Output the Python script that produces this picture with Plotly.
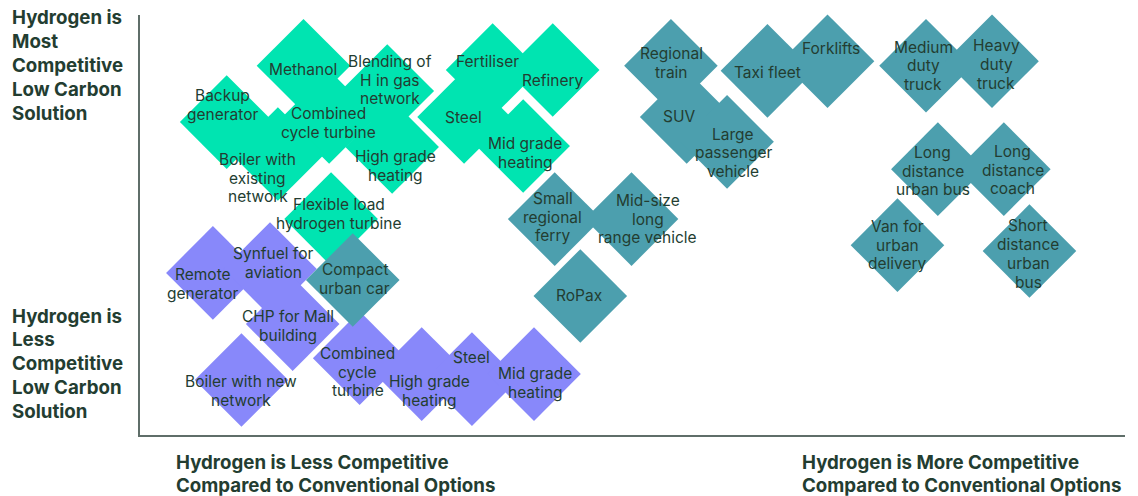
import plotly.graph_objects as go

# ---- Applications, scored on cost competitiveness (x) and low-carbon competitiveness (y) ----
green_names = ["Methanol", "Blending of<br>H in gas<br>network", "Backup<br>generator",
               "Combined<br>cycle turbine", "Boiler with<br>existing<br>network",
               "High grade<br>heating", "Flexible load<br>hydrogen turbine", "Fertiliser",
               "Refinery", "Steel", "Mid grade<br>heating"]
green_x = [16.6, 25.1, 8.8, 19.2, 14.0, 25.6, 19.4, 35.8, 41.9, 32.9, 38.9]
green_y = [87.9, 81.9, 74.5, 75.7, 66.9, 68.6, 51.4, 86.9, 86.9, 75.7, 68.8]

purple_names = ["Remote<br>generator", "Synfuel for<br>aviation", "CHP for Mall<br>building",
                "Boiler with new<br>network", "Combined<br>cycle<br>turbine",
                "High grade<br>heating", "Steel", "Mid grade<br>heating"]
purple_x = [7.4, 13.2, 15.5, 10.3, 22.3, 28.6, 33.7, 40.0]
purple_y = [38.6, 39.5, 26.4, 13.1, 18.3, 14.5, 13.3, 14.5]

teal_names = ["Compact<br>urban car", "Small<br>regional<br>ferry", "Mid-size<br>long<br>range vehicle",
              "RoPax", "Regional<br>train", "Taxi fleet", "Forklifts", "SUV",
              "Large<br>passenger<br>vehicle", "Medium<br>duty<br>truck", "Heavy<br>duty<br>truck",
              "Long<br>distance<br>urban bus", "Long<br>distance<br>coach",
              "Van for<br>urban<br>delivery", "Short<br>distance<br>urban<br>bus"]
teal_x = [21.6, 42.1, 49.9, 44.7, 53.9, 63.7, 69.8, 55.5, 59.6, 79.8, 86.5, 81.0, 87.7, 76.9, 90.3]
teal_y = [36.9, 51.4, 51.4, 33.1, 87.9, 86.7, 89.0, 75.7, 69.8, 87.9, 89.0, 63.3, 63.3, 45.2, 43.8]

# ---- Label nudges in pixels (dx right, dy down) relative to each diamond ----
green_nudge = [(-1, 4), (3, -11), (-4, -17), (-1, 6), (-20, 24), (3, 19), (8, -5),
               (-5, -9), (0, 10), (-1, 0), (2, 7)]
purple_nudge = [(-10, 11), (3, -6), (-5, 2), (0, 11), (-2, 14), (8, 17), (0, -22), (1, 9)]
teal_nudge = [(2, -1), (-2, -2), (16, 0), (-1, 0), (1, -3), (0, 2), (3, -13), (-8, -1),
              (6, 11), (-3, 0), (4, 3), (-5, 2), (9, 1), (0, 0), (-1, 3)]

# ---- Styling ----
GREEN = "#00e4b1"
PURPLE = "#8888fa"
TEAL = "#4c9fae"
INK = "#233d31"
AXIS = "#5f6e69"
FONT = "Inter"
LABEL_SIZE = 15.5
LABEL_LEAD = 18.8     # px between lines inside a diamond
CAPTION_SIZE = 18.7
W, H = 1138, 496
ML, MR, MT, MB = 140, 13, 15, 61
PW, PH = W - ML - MR, H - MT - MB

fig = go.Figure()

annotations = []
# draw green, then purple, then teal so teal sits on top where they overlap
for names, xs, ys, color, nudge in [
    (green_names, green_x, green_y, GREEN, green_nudge),
    (purple_names, purple_x, purple_y, PURPLE, purple_nudge),
    (teal_names, teal_x, teal_y, TEAL, teal_nudge),
]:
    fig.add_trace(go.Scatter(
        x=xs, y=ys, mode="markers",
        marker=dict(symbol="diamond", size=72, color=color, opacity=1,
                    line=dict(width=0)),
        hoverinfo="text", hovertext=[n.replace("<br>", " ") for n in names],
        cliponaxis=False, showlegend=False,
    ))
    # each label line is placed on its own so the leading stays tight
    for name, x, y, (dx, dy) in zip(names, xs, ys, nudge):
        lines = name.split("<br>")
        n = len(lines)
        for i, line in enumerate(lines):
            off = (i - (n - 1) / 2) * LABEL_LEAD
            annotations.append(dict(
                x=x, y=y, xref="x", yref="y", text=line, showarrow=False,
                xshift=dx, yshift=-(dy + off), align="center",
                borderpad=0, borderwidth=0,
                font=dict(family=FONT, size=LABEL_SIZE, color=INK),
            ))


def px_to_paper(px, py):
    return (px - ML) / PW, (H - MB - py) / PH


# vertical-axis captions, one line each
for lines, first_y in [
    (["Hydrogen is", "Most", "Competitive", "Low Carbon", "Solution"], 18),
    (["Hydrogen is", "Less", "Competitive", "Low Carbon", "Solution"], 316),
]:
    for i, line in enumerate(lines):
        xp, yp = px_to_paper(12, first_y + 23.8 * i)
        annotations.append(dict(
            x=xp, y=yp, xref="paper", yref="paper", text=line, showarrow=False,
            xanchor="left", yanchor="middle", align="left",
            borderpad=0, borderwidth=0,
            font=dict(family=FONT, size=CAPTION_SIZE, color=INK, weight=700),
        ))

# horizontal-axis captions
for lines, left_x in [
    (["Hydrogen is Less Competitive", "Compared to Conventional Options"], 176),
    (["Hydrogen is More Competitive", "Compared to Conventional Options"], 802),
]:
    for i, line in enumerate(lines):
        xp, yp = px_to_paper(left_x, 462 + 23 * i)
        annotations.append(dict(
            x=xp, y=yp, xref="paper", yref="paper", text=line, showarrow=False,
            xanchor="left", yanchor="middle", align="left",
            borderpad=0, borderwidth=0,
            font=dict(family=FONT, size=CAPTION_SIZE, color=INK, weight=700),
        ))

fig.update_layout(
    width=W, height=H,
    margin=dict(l=ML, r=MR, t=MT, b=MB, pad=0),
    paper_bgcolor="white", plot_bgcolor="white",
    xaxis=dict(range=[0, 100], showgrid=False, zeroline=False, showticklabels=False,
               ticks="", showline=True, linecolor=AXIS, linewidth=2, fixedrange=True),
    yaxis=dict(range=[0, 100], showgrid=False, zeroline=False, showticklabels=False,
               ticks="", showline=True, linecolor=AXIS, linewidth=2, fixedrange=True),
    annotations=annotations,
    font=dict(family=FONT, color=INK),
)

fig.write_html("out.html", config={"displayModeBar": False})
